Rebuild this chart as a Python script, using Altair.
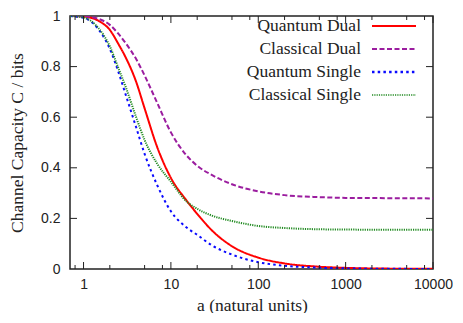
import altair as alt
import pandas as pd

# ---- data ----
a_values = [0.7, 1, 1.5, 2, 2.5, 3, 4, 5, 7, 10, 15, 20, 30, 50, 100, 200, 500, 1000, 3000, 10000]
quantum_dual = [1.0, 0.998, 0.98, 0.945, 0.89, 0.84, 0.74, 0.635, 0.48, 0.36, 0.272, 0.218, 0.15, 0.09, 0.045, 0.022, 0.009, 0.0045, 0.0015, 0.0005]
classical_dual = [1.0, 0.999, 0.988, 0.965, 0.93, 0.895, 0.83, 0.765, 0.655, 0.54, 0.45, 0.408, 0.37, 0.335, 0.307, 0.292, 0.284, 0.281, 0.28, 0.279]
quantum_single = [1.0, 0.993, 0.945, 0.87, 0.78, 0.695, 0.56, 0.455, 0.33, 0.228, 0.165, 0.135, 0.092, 0.057, 0.027, 0.013, 0.005, 0.0025, 0.0008, 0.0003]
classical_single = [1.0, 0.994, 0.95, 0.88, 0.795, 0.725, 0.60, 0.51, 0.415, 0.345, 0.268, 0.238, 0.21, 0.19, 0.17, 0.162, 0.157, 0.156, 0.155, 0.155]

series_names = ["Quantum Dual", "Classical Dual", "Quantum Single", "Classical Single"]
series_values = [quantum_dual, classical_dual, quantum_single, classical_single]
series_colors = ["#ff0000", "#9b1d9f", "#0a0aff", "#228b22"]
series_dash = [[1, 0], [5, 2.5], [2.5, 3.2], [1.2, 1.1]]
series_width = [2, 2, 2.4, 1.6]

x_major = [1, 10, 100, 1000, 10000]
x_minor = [0.8, 2, 5, 8, 20, 50, 80, 200, 500, 800, 2000, 5000, 8000]
y_major = [0.2, 0.4, 0.6, 0.8]

W, H = 363, 253
SERIF = "Liberation Serif, Times New Roman, Times, Nimbus Roman, DejaVu Serif, serif"
SANS = "Liberation Sans, Arial, Helvetica, sans-serif"
INK = "#222"

rows = []
for name, vals in zip(series_names, series_values):
    for a, v in zip(a_values, vals):
        rows.append({"a": a, "C": v, "series": name})
df = pd.DataFrame(rows)

xscale = alt.Scale(type="log", domain=[0.7, 10000], nice=False)
yscale = alt.Scale(domain=[0, 1], nice=False)

lines = alt.Chart(df).mark_line(interpolate="monotone", clip=True).encode(
    x=alt.X("a:Q", scale=xscale,
            axis=alt.Axis(values=x_major, format="d", ticks=False, domain=False, grid=False,
                          labelFlush=False, labelPadding=8, labelFont=SANS, labelFontSize=14,
                          labelColor=INK,
                          title="a (natural units)", titleFont=SERIF, titleFontSize=17.5,
                          titleFontWeight="normal", titleColor=INK,
                          titleX=182, titleY=36, titleBaseline="middle")),
    y=alt.Y("C:Q", scale=yscale,
            axis=alt.Axis(values=[0, 0.2, 0.4, 0.6, 0.8, 1], format="~g", ticks=False, domain=False,
                          grid=False, labelFlush=False, labelPadding=10, labelFont=SANS,
                          labelFontSize=14, labelColor=INK,
                          title="Channel Capacity C / bits", titleFont=SERIF, titleFontSize=17.5,
                          titleFontWeight="normal", titleColor=INK,
                          titleX=-53, titleY=H / 2, titleBaseline="middle")),
    color=alt.Color("series:N", scale=alt.Scale(domain=series_names, range=series_colors), legend=None),
    strokeDash=alt.StrokeDash("series:N", scale=alt.Scale(domain=series_names, range=series_dash), legend=None),
    strokeWidth=alt.StrokeWidth("series:N", scale=alt.Scale(domain=series_names, range=series_width), legend=None),
)

xmaj = pd.DataFrame({"v": x_major})
xmin = pd.DataFrame({"v": x_minor})
ymaj = pd.DataFrame({"v": y_major})

def xticks(data, length):
    bottom = alt.Chart(data).mark_rule(color=INK, strokeWidth=1).encode(
        x=alt.X("v:Q", scale=xscale), y=alt.value(H), y2=alt.value(H - length))
    top = alt.Chart(data).mark_rule(color=INK, strokeWidth=1).encode(
        x=alt.X("v:Q", scale=xscale), y=alt.value(0), y2=alt.value(length))
    return [bottom, top]

yt_left = alt.Chart(ymaj).mark_rule(color=INK, strokeWidth=1).encode(
    y=alt.Y("v:Q", scale=yscale), x=alt.value(0), x2=alt.value(7))
yt_right = alt.Chart(ymaj).mark_rule(color=INK, strokeWidth=1).encode(
    y=alt.Y("v:Q", scale=yscale), x=alt.value(W - 7), x2=alt.value(W))

layers = [lines] + xticks(xmaj, 7) + xticks(xmin, 4) + [yt_left, yt_right]

# manual legend (label on the left, line sample on the right)
legend_rows = [10, 33, 56, 79]
for name, col, dash, sw, yy in zip(series_names, series_colors, series_dash, series_width, legend_rows):
    ldf = pd.DataFrame({"label": [name]})
    layers.append(alt.Chart(ldf).mark_text(align="right", baseline="middle", font=SERIF,
                                           fontSize=17.5, color=INK).encode(
        text="label:N", x=alt.value(291), y=alt.value(yy)))
    layers.append(alt.Chart(ldf).mark_rule(color=col, strokeWidth=sw, strokeDash=dash).encode(
        x=alt.value(302), x2=alt.value(346), y=alt.value(yy)))

chart = alt.layer(*layers).properties(
    width=W, height=H,
    autosize="none",
    padding={"left": 62, "top": 8, "right": 20, "bottom": 44},
).configure_view(stroke=INK, strokeWidth=1.5)

chart.save("out.html", embed_options={"renderer": "svg", "actions": False})
